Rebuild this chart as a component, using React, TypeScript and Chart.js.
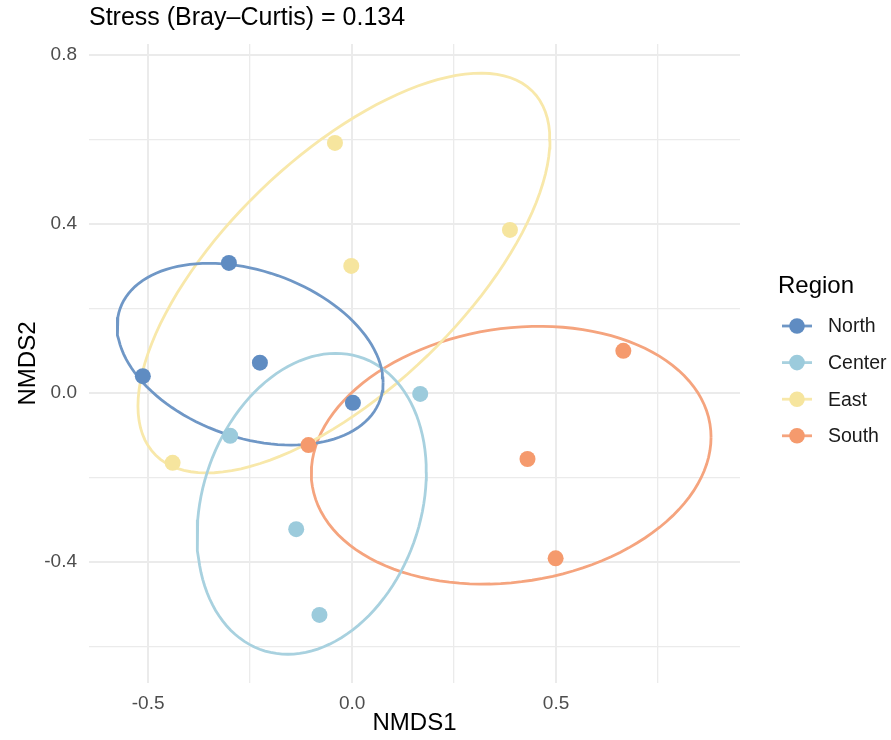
import React, { useEffect, useRef } from "react";
import { Chart, registerables } from "chart.js";

Chart.register(...registerables);

// ---- Data (NMDS scores) ----
const groups = ["North", "Center", "East", "South"];
const northX = [-0.302, -0.513, -0.226, 0.002];
const northY = [0.308, 0.040, 0.072, -0.023];
const centerX = [-0.299, 0.167, -0.137, -0.080];
const centerY = [-0.101, -0.002, -0.322, -0.525];
const eastX = [-0.042, -0.002, 0.387, -0.440];
const eastY = [0.592, 0.301, 0.386, -0.165];
const southX = [-0.107, 0.665, 0.430, 0.499];
const southY = [-0.123, 0.100, -0.156, -0.391];

// ---- 95% ellipse parameters per group (data units) ----
const ellipseCx = [-0.25, -0.099, -0.02, 0.39];
const ellipseCy = [0.092, -0.262, 0.284, -0.147];
const ellipseSx = [0.326, 0.281, 0.505, 0.49];
const ellipseSy = [0.215, 0.356, 0.473, 0.305];
const ellipseRho = [-0.31, 0.21, 0.665, 0.14];

// ---- Axes ----
const xMin = -0.645;
const xMax = 0.951;
const yMin = -0.686;
const yMax = 0.826;
const xTicks = [-0.5, -0.25, 0, 0.25, 0.5, 0.75];
const xMajor = [-0.5, 0, 0.5];
const yTicks = [-0.6, -0.4, -0.2, 0, 0.2, 0.4, 0.6, 0.8];
const yMajor = [-0.4, 0, 0.4, 0.8];

const titleText = "Stress (Bray\u2013Curtis) = 0.134";
const legendTitle = "Region";

const pointColors = ["#5f8cc2", "#9ccbdc", "#f6e59e", "#f59a6d"];
const lineColors = ["#6f97c6", "#a8d1df", "#f8e8aa", "#f5a47e"];

const FONT = "'Liberation Sans', Arial, Helvetica, sans-serif";

function isMajor(v: number, majors: number[]) {
  return majors.some((m) => Math.abs(m - v) < 1e-9);
}

function ellipsePoints(i: number) {
  const pts: { x: number; y: number }[] = [];
  const n = 120;
  const r = ellipseRho[i];
  const s = Math.sqrt(1 - r * r);
  for (let k = 0; k <= n; k++) {
    const t = (2 * Math.PI * k) / n;
    pts.push({
      x: ellipseCx[i] + ellipseSx[i] * Math.cos(t),
      y: ellipseCy[i] + ellipseSy[i] * (r * Math.cos(t) + s * Math.sin(t)),
    });
  }
  return pts;
}

const overlayPlugin = {
  id: "overlay",
  afterDraw(chart: any) {
    const ctx = chart.ctx as CanvasRenderingContext2D;
    ctx.save();
    // title
    ctx.fillStyle = "#000000";
    ctx.font = `25px ${FONT}`;
    ctx.textAlign = "left";
    ctx.textBaseline = "middle";
    ctx.fillText(titleText, 89, 18);

    // legend
    ctx.font = `24px ${FONT}`;
    ctx.fillText(legendTitle, 778, 286);
    ctx.font = `19.5px ${FONT}`;
    groups.forEach((g, i) => {
      const y = 326 + i * 36.6;
      ctx.strokeStyle = lineColors[i];
      ctx.lineWidth = 2.8;
      ctx.beginPath();
      ctx.moveTo(782, y);
      ctx.lineTo(812, y);
      ctx.stroke();
      ctx.fillStyle = pointColors[i];
      ctx.beginPath();
      ctx.arc(797, y, 7.8, 0, Math.PI * 2);
      ctx.fill();
      ctx.fillStyle = "#1a1a1a";
      ctx.fillText(g, 828, y + 1);
    });
    ctx.restore();
  },
};

export default function App() {
  const ref = useRef<HTMLCanvasElement | null>(null);

  useEffect(() => {
    document.body.style.margin = "0";
    const canvas = ref.current;
    if (!canvas) return;

    const xs = [northX, centerX, eastX, southX];
    const ys = [northY, centerY, eastY, southY];

    const pointSets = groups.map((g, i) => ({
      label: g,
      data: xs[i].map((x, k) => ({ x, y: ys[i][k] })),
      backgroundColor: pointColors[i],
      borderColor: pointColors[i],
      borderWidth: 0,
      pointRadius: 8,
      showLine: false,
      order: 0,
    }));

    const ellipseSets = groups.map((g, i) => ({
      label: g + " ellipse",
      data: ellipsePoints(i),
      borderColor: lineColors[i],
      backgroundColor: lineColors[i],
      borderWidth: 2.8,
      pointRadius: 0,
      showLine: true,
      fill: false,
      tension: 0,
      order: 1,
    }));

    const chart = new Chart(canvas, {
      type: "scatter",
      data: { datasets: [...pointSets, ...ellipseSets] as any },
      options: {
        responsive: false,
        animation: false,
        layout: { padding: { top: 44, right: 151, bottom: 0, left: 0 } },
        plugins: {
          legend: { display: false },
          tooltip: { enabled: false },
          title: { display: false },
        },
        scales: {
          x: {
            type: "linear",
            min: xMin,
            max: xMax,
            afterFit: (s: any) => {
              s.height = 57;
            },
            afterBuildTicks: (s: any) => {
              s.ticks = xTicks.map((v) => ({ value: v }));
            },
            border: { display: false },
            grid: {
              drawTicks: false,
              color: "#ebebeb",
              lineWidth: (c: any) =>
                c.tick && isMajor(c.tick.value, xMajor) ? 2 : 1.3,
            },
            ticks: {
              autoSkip: false,
              maxRotation: 0,
              padding: 9,
              color: "#4d4d4d",
              font: { family: FONT, size: 19 },
              callback: (v: any) =>
                isMajor(Number(v), xMajor) ? Number(v).toFixed(1) : "",
            },
            title: {
              display: true,
              text: "NMDS1",
              color: "#000000",
              font: { family: FONT, size: 24, lineHeight: 1 },
              padding: { top: 0, bottom: 5 },
            },
          },
          y: {
            type: "linear",
            min: yMin,
            max: yMax,
            afterFit: (s: any) => {
              s.width = 89;
            },
            afterBuildTicks: (s: any) => {
              s.ticks = yTicks.map((v) => ({ value: v }));
            },
            border: { display: false },
            grid: {
              drawTicks: false,
              color: "#ebebeb",
              lineWidth: (c: any) =>
                c.tick && isMajor(c.tick.value, yMajor) ? 2 : 1.3,
            },
            ticks: {
              autoSkip: false,
              padding: 12,
              color: "#4d4d4d",
              font: { family: FONT, size: 19 },
              callback: (v: any) =>
                isMajor(Number(v), yMajor) ? Number(v).toFixed(1) : "",
            },
            title: {
              display: true,
              text: "NMDS2",
              color: "#000000",
              font: { family: FONT, size: 24, lineHeight: 1 },
              padding: { top: 16, bottom: 0 },
            },
          },
        },
      },
      plugins: [overlayPlugin],
    });

    return () => chart.destroy();
  }, []);

  return (
    <canvas
      ref={ref}
      width={891}
      height={740}
      style={{ display: "block", width: 891, height: 740 }}
    />
  );
}
